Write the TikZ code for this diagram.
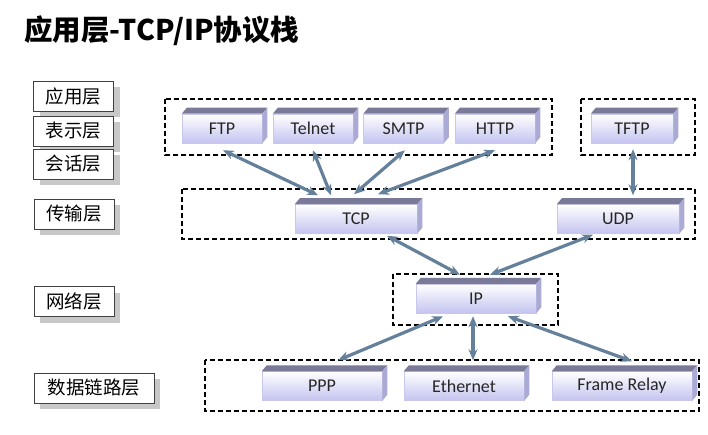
\documentclass[tikz,border=0pt]{standalone}
\usepackage{fontspec}
\newfontfamily\cjk{Noto Sans CJK SC}
\newfontfamily\lat{Carlito}
\usetikzlibrary{arrows.meta,shadows}
\definecolor{lav}{RGB}{196,196,240}
\definecolor{lavborder}{RGB}{200,200,235}
\definecolor{topface}{RGB}{122,122,152}
\definecolor{sideface}{RGB}{170,170,212}
\definecolor{arrowc}{RGB}{100,128,154}
\definecolor{shadowc}{RGB}{200,200,200}
\tikzset{
  proto/.style={draw=lavborder, line width=0.5pt, top color=white, bottom color=lav,
    minimum height=29pt, inner sep=0pt, text=black!85,
    font=\lat\fontsize{18}{20}\selectfont},
  layer/.style={draw=black!75, line width=0.7pt, fill=white, minimum width=80pt,
    minimum height=30pt, inner sep=0pt, font=\cjk\fontsize{18.5}{20}\selectfont,
    drop shadow={shadow xshift=6pt, shadow yshift=-6pt, fill=shadowc, opacity=1}},
  dbox/.style={draw=black, line width=1.2pt, dash pattern=on 5pt off 3pt},
  arr/.style={draw=arrowc, line width=3.2pt,
    {Stealth[length=11pt,width=9pt]}-{Stealth[length=11pt,width=9pt]}},
}
\begin{document}
\begin{tikzpicture}[x=1pt,y=-1pt]
\useasboundingbox[fill=white] (0,0) rectangle (708,435);
% title
\node[anchor=west, inner sep=0pt, font=\cjk\bfseries\fontsize{28.5}{30}\selectfont] (title) at (24,31) {应用层-TCP/IP协议栈};
% layer labels
\node[layer] (l1) at (73.5,96) {应用层};
\node[layer] (l2) at (73.5,131) {表示层};
\node[layer] (l3) at (73.5,164) {会话层};
\node[layer] (l4) at (74,214) {传输层};
\node[layer] (l5) at (74,301.5) {网络层};
\node[layer, minimum width=120pt] (l6) at (94,388) {数据链路层};
% dashed groups
\draw[dbox] (165,99) rectangle (552,155);
\draw[dbox] (581,99) rectangle (695,155);
\draw[dbox] (182,189) rectangle (695,239);
\draw[dbox] (393,274) rectangle (558,325);
\draw[dbox] (205,360) rectangle (699,411);
% protocol boxes
\node[proto, minimum width=80pt] (ftp) at (222,128.5) {FTP};
\node[proto, minimum width=80pt] (telnet) at (313,128.5) {Telnet};
\node[proto, minimum width=80pt] (smtp) at (403.5,128.5) {SMTP};
\node[proto, minimum width=80pt] (http) at (495,128.5) {HTTP};
\node[proto, minimum width=82pt] (tftp) at (632,128.5) {TFTP};
\node[proto, minimum width=122pt] (tcp) at (356,219) {TCP};
\node[proto, minimum width=122pt] (udp) at (618,219) {UDP};
\node[proto, minimum width=120pt] (ip) at (476,298.5) {IP};
\node[proto, minimum width=120pt] (ppp) at (322,386) {PPP};
\node[proto, minimum width=120pt] (eth) at (464,386) {Ethernet};
\node[proto, minimum width=140pt] (fr) at (622,386) {Frame Relay};
% 3D faces
\foreach \n in {ftp,telnet,smtp,http,tftp,tcp,udp,ip,ppp,eth,fr}{
  \fill[topface] (\n.north west) -- ++(5,-6) -- ([shift={(5,-6)}]\n.north east) -- (\n.north east) -- cycle;
  \fill[sideface] (\n.north east) -- ++(5,-6) -- ([shift={(5,-6)}]\n.south east) -- (\n.south east) -- cycle;
}
% arrows
\draw[arr] ([shift={(1,7)}]ftp.south) -- ([shift={(-38,-9)}]tcp.north);
\draw[arr] ([shift={(0,7)}]telnet.south) -- ([shift={(-25,-9)}]tcp.north);
\draw[arr] ([shift={(1.5,7)}]smtp.south) -- ([shift={(-2,-10)}]tcp.north);
\draw[arr] ([shift={(0,7)}]http.south) -- ([shift={(22,-10)}]tcp.north);
\draw[arr] ([shift={(1,6)}]tftp.south) -- ([shift={(15,-9)}]udp.north);
\draw[arr] ([shift={(31,2)}]tcp.south) -- ([shift={(-16,-9)}]ip.north);
\draw[arr] ([shift={(-25,1)}]udp.south) -- ([shift={(14,-9)}]ip.north);
\draw[arr] ([shift={(-33,3)}]ip.south) -- ([shift={(16,-11)}]ppp.north);
\draw[arr] ([shift={(-3,3)}]ip.south) -- ([shift={(9,-11)}]eth.north);
\draw[arr] ([shift={(32,3)}]ip.south) -- ([shift={(10,-10)}]fr.north);
\end{tikzpicture}
\end{document}
